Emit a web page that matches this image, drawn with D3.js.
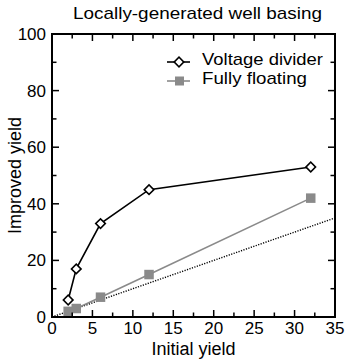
<!DOCTYPE html>
<html><head><meta charset="utf-8">
<script src="https://cdn.jsdelivr.net/npm/d3@7"></script>
<style>body{margin:0;background:#fff}svg{display:block}text{font-family:"Liberation Sans",Arial,sans-serif;fill:#000}</style>
</head><body>
<script>
const xVals = [2, 3, 6, 12, 32];
const voltageDivider = [6, 17, 33, 45, 53];
const fullyFloating = [2, 3, 7, 15, 42];
const xTicks = [0, 5, 10, 15, 20, 25, 30, 35];
const yTicks = [0, 20, 40, 60, 80, 100];
const refLine = [0, 35];

const W = 345, H = 360;
const m = {l: 52, r: 10, t: 34, b: 43};
const svg = d3.select("body").append("svg").attr("width", W).attr("height", H);
const x = d3.scaleLinear().domain([0, 35]).range([m.l, W - m.r]);
const y = d3.scaleLinear().domain([0, 100]).range([H - m.b, m.t]);
const GRAY = "#8a8a8a";

const g = svg.append("g");
g.append("path").datum(refLine)
  .attr("d", d3.line().x(d => x(d)).y(d => y(d)))
  .attr("stroke", "#000").attr("stroke-width", 1.4).attr("stroke-dasharray", "1.2,1.4").attr("fill", "none");

const line = d3.line().x((d, i) => x(xVals[i])).y(d => y(d));
g.append("path").datum(fullyFloating).attr("d", line).attr("stroke", GRAY).attr("stroke-width", 1.6).attr("fill", "none");
g.append("path").datum(voltageDivider).attr("d", line).attr("stroke", "#000").attr("stroke-width", 1.6).attr("fill", "none");

g.selectAll(".sq").data(fullyFloating).enter().append("rect")
  .attr("x", (d, i) => x(xVals[i]) - 4.75).attr("y", d => y(d) - 4.75)
  .attr("width", 9.5).attr("height", 9.5).attr("fill", GRAY);
const diamond = d3.symbol().type(d3.symbolSquare).size(46)();
g.selectAll(".dm").data(voltageDivider).enter().append("path")
  .attr("transform", (d, i) => `translate(${x(xVals[i])},${y(d)}) rotate(45)`)
  .attr("d", diamond)
  .attr("fill", "#fff").attr("stroke", "#000").attr("stroke-width", 1.6);

svg.append("rect").attr("x", m.l).attr("y", m.t).attr("width", W - m.r - m.l).attr("height", H - m.b - m.t)
  .attr("fill", "none").attr("stroke", "#000").attr("stroke-width", 2);

const xMinor = d3.range(0, 35.01, 2.5);
const yMinor = d3.range(0, 100.01, 10);
const tk = svg.append("g").attr("stroke", "#000").attr("stroke-width", 1.5);
xMinor.forEach(v => {
  const len = (v % 5 === 0) ? 7 : 4.5;
  tk.append("line").attr("x1", x(v)).attr("x2", x(v)).attr("y1", y(0)).attr("y2", y(0) - len);
  tk.append("line").attr("x1", x(v)).attr("x2", x(v)).attr("y1", y(100)).attr("y2", y(100) + len);
});
yMinor.forEach(v => {
  const len = (v % 20 === 0) ? 7 : 4.5;
  tk.append("line").attr("x1", x(0)).attr("x2", x(0) + len).attr("y1", y(v)).attr("y2", y(v));
  tk.append("line").attr("x1", x(35)).attr("x2", x(35) - len).attr("y1", y(v)).attr("y2", y(v));
});

svg.selectAll(".xt").data(xTicks).enter().append("text")
  .attr("x", d => x(d)).attr("y", y(0) + 17).attr("text-anchor", "middle").attr("font-size", 17).text(d => d);
svg.selectAll(".yt").data(yTicks).enter().append("text")
  .attr("x", m.l - 6).attr("y", d => y(d) + 6).attr("text-anchor", "end").attr("font-size", 17).text(d => d);

svg.append("text").attr("x", (m.l + W - m.r) / 2).attr("y", 355).attr("text-anchor", "middle").attr("font-size", 18).text("Initial yield");
svg.append("text").attr("transform", `translate(21,${(m.t + H - m.b) / 2}) rotate(-90)`).attr("text-anchor", "middle").attr("font-size", 18).text("Improved yield");
svg.append("text").attr("x", 197.5).attr("y", 19).attr("text-anchor", "middle").attr("font-size", 17)
  .attr("textLength", 249).attr("lengthAdjust", "spacingAndGlyphs").text("Locally-generated well basing");

const lg = svg.append("g");
lg.append("line").attr("x1", 167).attr("x2", 190).attr("y1", 62).attr("y2", 62).attr("stroke", "#000").attr("stroke-width", 1.6);
lg.append("path").attr("transform", "translate(179,62) rotate(45)").attr("d", diamond)
  .attr("fill", "#fff").attr("stroke", "#000").attr("stroke-width", 1.6);
lg.append("text").attr("x", 202).attr("y", 65).attr("font-size", 17)
  .attr("textLength", 121).attr("lengthAdjust", "spacingAndGlyphs").text("Voltage divider");
lg.append("line").attr("x1", 167).attr("x2", 190).attr("y1", 81).attr("y2", 81).attr("stroke", GRAY).attr("stroke-width", 1.6);
lg.append("rect").attr("x", 175).attr("y", 76.5).attr("width", 9).attr("height", 9).attr("fill", GRAY);
lg.append("text").attr("x", 202).attr("y", 84).attr("font-size", 17)
  .attr("textLength", 105).attr("lengthAdjust", "spacingAndGlyphs").text("Fully floating");
</script>
</body></html>
